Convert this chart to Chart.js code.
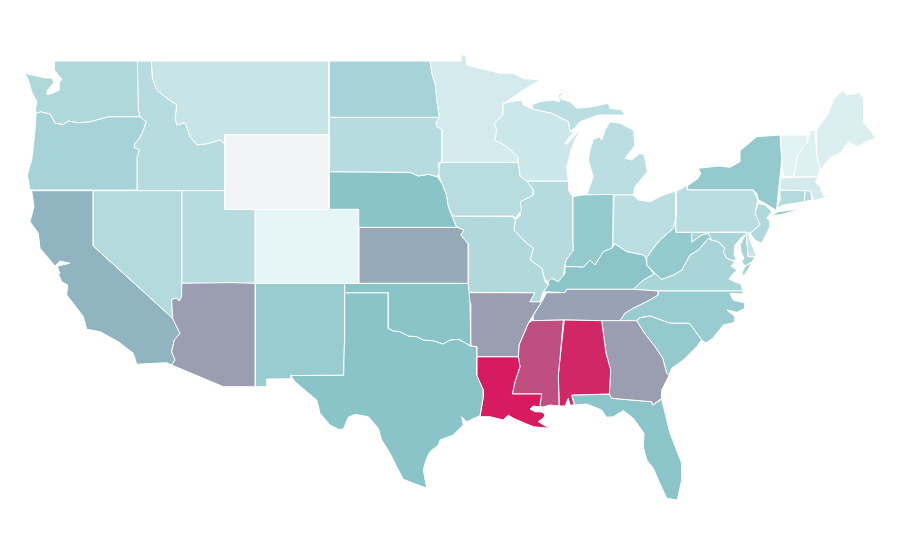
<!DOCTYPE html>
<html>
<head>
<meta charset="utf-8">
<script src="https://cdn.jsdelivr.net/npm/chart.js@4"></script>
<style>
  html, body { margin: 0; padding: 0; background: #fff; }
  canvas { display: block; }
</style>
</head>
<body>
<canvas id="map" width="900" height="560"></canvas>
<script>
// outlines, x,y x,y in map units
const WA = [54,61,54.3,70,59,76,61.7,79.3,59,83,59.3,90,53.3,93,47.3,94.5,47,91,51,86,54,82,52,78,45,78,25,73.3,28.3,80,31.7,91.7,35,98.3,37,102,35.5,108,36,113.3,40.7,111.7,50,114,52.7,118.3,55,123.3,63.3,124.3,68.3,121,78.3,122.7,90,121.7,100,119,108.3,116.7,140,116.7,138.3,110,137.3,61];
const OR = [36,113.3,40.7,111.7,50,114,52.7,118.3,55,123.3,63.3,124.3,68.3,121,78.3,122.7,90,121.7,100,119,108.3,116.7,140,116.7,146,121.7,144,128.3,140,137.3,135,143.3,134,147.3,139.3,150,137.3,156.7,137.3,190,30,190,27.3,175,31.7,160,33.3,146.7,35,130];
const ID = [137.3,61,151.3,61,152.3,78.3,156.7,90,166.7,98.3,176.7,105,175,118.3,176.7,125,185,122.7,190,136.7,196.7,145,206.7,144,220,140,225,144.3,225,190.5,137.3,190.5,137.3,156.7,139.3,150,134,147.3,135,143.3,140,137.3,144,128.3,146,121.7,140,116.7,138.3,110];
const MT = [151.3,61,329,61,329,134.7,225,134.7,225,144.3,220,140,206.7,144,196.7,145,190,136.7,185,122.7,176.7,125,175,118.3,176.7,105,166.7,98.3,156.7,90,152.3,78.3];
const WY = [225,134.7,329,134.7,329,209.3,225,209.3];
const ND = [329,61,430,61,431.7,73.3,435,83.3,436.7,100,439.3,117.3,329,117.3];
const SD = [329,117.3,439.3,117.3,435.7,123.3,436.7,126.7,441.7,129.3,441.7,161.7,438.3,163.3,439.3,171.7,437.3,176.7,428.3,174.3,418.3,176,410,172.3,329,171.7];
const NE = [329,171.7,410,172.3,418.3,176,428.3,174.3,437.3,176.7,441.7,183.3,446,193.3,448.3,206.7,450.7,213.3,456.7,227.3,358.7,227.3,358.7,209.3,329,209.3];
const CO = [255.3,209.3,358.7,209.3,358.7,283.3,255.3,283.3];
const KS = [358.7,227.3,456.7,227.3,464,230,460.7,235,468.3,244,468.3,283.3,358.7,283.3];
const OK = [344.7,283.3,468.3,283.3,470,303.3,470.7,346,463.3,341.7,458.3,339.3,450,340,442.7,344,433.3,340.7,423.3,340,416.7,336.7,408.3,336,400,331.7,393.3,331,388.3,328.3,388.3,292.7,344.7,292.7];
const TX = [344.7,292.7,388.3,292.7,388.3,328.3,393.3,331,400,331.7,408.3,336,416.7,336.7,423.3,340,433.3,340.7,442.7,344,450,340,458.3,339.3,463.3,341.7,470.7,346,476.7,346.7,476.7,375,483.3,390,483.3,396.7,480,415.7,466.7,421.7,461.7,416.7,463.3,425,453.3,435,440,440,438.3,445,430,451.7,426,460,423.3,470,426.7,488,413.3,483.3,403.3,479.3,396.7,466.7,390,453.3,381.7,440,378.3,428.3,368.3,416.7,355,414.3,348.3,417.3,343.3,429.3,338.3,429.3,330,425,320,413.3,316.7,400,306.7,391.7,295,381.7,290.7,375.5,343.7,375.3,344.3,343.3];
const NM = [255.5,283.3,344.7,283.3,344.7,292.7,344.3,343.3,343.7,375.3,290.7,375.5,291,378.7,267,379,267,386.7,255.5,386.7];
const AZ = [181.7,283.3,226.7,282.7,233.3,282.7,255.3,283.3,255.3,386.7,223.3,386.7,171.7,365,175,360,171.7,351.7,174.3,340,180,333.3,175,323.3,172.7,318.3,171.7,299.3,176.7,298.3,179.3,301,181.7,296.7];
const NV = [93.3,190.7,181.7,190.7,181.7,296.7,179.3,301,176.7,298.3,171.7,299.3,172.7,318.3,93.3,246];
const UT = [181.7,190.7,225,190.7,225,209.3,255.3,209.3,255.3,283.3,181.7,283.3];
const CA = [31.7,190.7,93.3,190.7,93.3,246,172.7,318.3,175,323.3,180,333.3,174.3,340,171.7,351.7,175,360,171.7,365,166.7,362.7,136.7,364.3,133.3,353.3,118.3,341.7,100,331.7,86.7,329.3,83.3,316.7,73.3,303.3,66.7,295,67.7,285,61.7,281.7,57.3,271.7,60,274,57.3,266,70,263.3,60,261,55,266,40,248.3,38.3,233.3,30,221.7,34,206.7];
const MN = [430,61,461,61,461,55,465.7,55,466.7,65,480,68.3,500,73.3,513.3,73.3,523.3,78.3,540,80,523.3,90,505,102.7,502.7,104,502.7,115,494,123.3,496.7,130,495,140,506.7,146.7,517.3,156,518.3,162.3,441.7,162.3,441.7,129.3,436.7,126.7,435.7,123.3,439.3,117.3,436.7,100,435,83.3,431.7,73.3];
const WI = [502.7,104,505,102.7,521.7,100,523.3,105,533.3,109.3,551.7,113.3,568.3,121.7,570,131.7,574,131,565,143.3,566.5,144.5,578,132,580,131,575,140,571.7,148.3,566.7,166.7,568.3,181,526.7,181,520,176,518.3,162.3,517.3,156,506.7,146.7,495,140,496.7,130,494,123.3,502.7,115];
const IA = [441.7,162.3,518.3,162.3,520,176,526.7,180.7,533.3,190,533.3,195,520,201.7,521.7,210,515,218.3,513.3,216,452.7,216,448.3,206.7,446,193.3,441.7,183.3,438.3,173.3,439.3,165];
const MO = [451.7,216,512.7,216.7,515.3,220,514,230,525,241.7,533.3,248.3,530,260,541.7,268.3,545,281.7,548.3,285,543.3,291.7,540,301.7,530,301.7,535,292.7,468.3,292.3,468.3,244,460.7,235,464,230,456.7,226.7];
const AR = [468.3,292.7,535,292.7,530,301.7,541.7,301.7,533.3,315,528.3,323.3,523.3,335,519,345,518.3,356.7,476.7,356.7,476.7,346.7,470.7,346,470,303.3];
const LA = [476.7,356.7,518.3,356.7,520,366.7,515,381.7,512.3,394,541.7,394,540,405,541,407,533,406,530,409,535,411.7,542,412,545,415,543.3,418,538.3,421.7,549,428.3,533.3,426.7,525,423.3,513.3,418.3,508.3,415,503.3,420,490,416.7,480,416.7,483.3,396.7,483.3,390,476.7,376.7];
const MS = [531.7,320.7,563.3,320,560,358.3,558.3,375,559,406,550,405,541.7,407.3,540,405,541.7,394,512.3,394,515,381.7,520,366.7,518.3,356.7,519,345,523.3,335,528.3,323.3];
const AL = [564.3,320,601.7,320.7,606,353.3,610.7,370,609.3,394,571.7,395,574,405,570,405,568.3,398.3,565,406,559.3,406,558.3,375,560,358.3];
const GA = [601.7,320.7,636.7,320.7,643.3,331.7,655,346.7,662.7,358.3,666.7,373.3,669.3,375,661.7,390,661.7,398.3,652.7,405,651.7,401.7,611.7,398.3,609.3,394,610.7,370,606,353.3];
const FL = [571.7,395,609.3,394.3,611.7,398.3,651.7,401.7,652.7,405,661.7,399.3,670,433.3,681.7,463.3,681.7,480,677.3,500,666.7,498.3,658.3,480,653.3,468.3,646.7,460,643.3,446.7,644,433.3,633.3,418.3,623.3,410.7,613.3,416.7,606.7,417.3,601.7,410,586.7,404,575,405];
const SC = [636.7,320.7,640,317.7,650,316,670,323.3,689.3,323.3,701.7,340,696.7,346.7,683.3,360,671.7,368.3,669.3,375,666.7,373.3,662.7,358.3,655,346.7,643.3,331.7];
const NC = [658.3,291,742.7,291,743,294,730,293.3,733,300,745,303,745,308.3,736.7,312.3,727,310,735,316.7,735,322.3,723.3,325,713,338,706,343,701.7,340,689.3,323.3,670,323.3,650,316,640,317.7,636.7,320.7,620,320.7,625,313.3,633.3,308.3,640,305,646.7,301.7,658.3,295];
const TN = [546.7,292.7,565,292.7,566.7,289.3,633.3,289.3,658.3,291,658.3,295,646.7,301.7,640,305,633.3,308.3,625,313.3,620,320.7,601.7,320.7,564,320,533.3,320.7,533.3,315,541.7,301.7];
const KY = [543.3,291.7,548.3,285,548.3,281.7,551.7,278.3,558.3,281.7,565,273.3,565,266.7,576.7,266.7,583.3,267.3,590,260,595,265,603.3,251.7,611.7,248.3,615,244,626.7,251.7,643.3,255,646,258.3,646.7,265,654,274,643.3,280,633.3,289.3,566.7,289.3,565,292.5];
const IL = [526.7,181,568.3,181,568.5,190,572.7,196.7,572.7,240,573.3,250,566,260,564.3,268.3,563.3,276.7,558.3,281.7,551.7,278.3,548.3,281.7,545,280,541.7,268.3,530,260,533.3,248.3,525,241.7,514,230,515.3,220,520.7,215,520,201.7,533.3,195,533.3,190];
const IN = [572.7,196.7,581.7,195,613.3,194.3,612.7,244,611.7,248.3,603.3,251.7,595,265,590,260,583.3,267.3,576.7,266.7,565,266.7,566,260,573.3,250,572.7,240];
const OH = [614,195,633.3,195,638.3,200,650,201.7,663,195,676,191,676,216.7,673.3,228.3,660,240,653.3,248.3,646,258.3,643.3,255,626.7,251.7,615,244,612.7,244];
const MI = [586.7,195,593.3,176.7,588.3,160,590,150,593.3,139.3,600,136.7,601.7,140,605,130,610,121.7,620,123.3,633.3,130,635,145,625,158.3,631.7,160,640,153.3,644.3,155,647.3,171.7,635,186.7,633.3,195,613.3,195];
const MI_UP = [531.7,105,540,101.7,553.3,100,560,101.7,558.3,95,568.3,90,561.7,95,561,99,570,101.7,576.7,108.3,591.7,106.7,608.3,103.3,610,108.3,621.7,110,625,115,610,115,598.3,115,586.7,119.3,580,121.7,574.3,128.3,570,131.7,568.3,121.7,551.7,113.3,533.3,109.3];
const PA = [676,191.7,687.3,185,687.3,190,753.3,190,757.7,200,755,213.3,760,225,750,233.3,746.7,232,676.7,232.3];
const NY = [687.3,186,698.3,178.3,700.7,173.3,698.3,168.3,718.3,166,730,167.3,740,161.7,740,150.7,756.7,136.7,780,135,781.7,160,779.3,183.3,776.7,208.3,775.7,210,765,203.3,758.3,200,756.7,193.3,753.3,190,687.3,190];
const NY_LI = [772.3,215,778.3,211.7,791.7,210,801.7,208.3,791.7,211.7,781.7,214.3,773.3,215.7];
const NJ = [758.3,203.3,765,205,771.7,211.7,766.7,218.3,770,220,770,226.7,761.7,243.3,755,240,750,233.3,760,225,755,213.3];
const DE = [746,232.7,748.3,231.7,750,240,756.7,256,748.3,256.7];
const MD = [691.7,232.3,746,232.3,748.3,256.7,755,256.7,752,262,745,266,741.7,262,744,258,741,252,740,245,745,235,742,237,735,245,734,255,736,258.5,734,261,726.5,258,723.3,251.7,725,248.3,718.3,241.7,711.7,240,708.3,233.3,701.7,235,691.7,242];
const WV = [676,216.7,676,232.3,691.7,232.3,691.7,242,701.7,235,708.3,233.3,711.7,240,708.3,238.3,698.3,250,690,255,681.7,270,673.3,275,661.7,279.3,655,273.3,646.7,265,646,258.3,653.3,248.3,660,240,673.3,228.3];
const VA = [633.3,289.3,643.3,280,654,274,655,273.3,661.7,279.3,673.3,275,681.7,270,690,255,698.3,250,708.3,238.3,711.7,240,718.3,241.7,725,248.3,723.3,251.7,726.5,258,735,262,731,266,737,270,733,274,729,279,735,282,741,284,742.7,291,658.3,291];
const VA_SHORE = [745,266,752,262,748,270,743.7,276,742,273];
const VT = [781.7,135,808.3,135,806.7,143.3,801.7,148.3,796.7,158.3,795,170,793.3,176.7,784,176.7,781.7,160];
const NH = [809.3,135,810.7,130.7,815,130,816.7,156.7,820,170,816.7,176.7,793.3,177,795,170,796.7,158.3,801.7,148.3,806.7,143.3];
const ME = [816.7,130,828.3,113.3,833.3,100,842.7,90,846.7,95,860,92.7,864,100,864,123.3,870,130,876,138.3,866.7,141.7,856.7,146.7,848.3,141.7,841.7,151.7,830,158.3,820,170,816.7,156.7];
const MA = [780,178,819,176.7,815,181.7,820,186.7,823.3,196,830,195,823.3,198.3,813.3,200.7,810.7,190.7,780,190];
const CT = [780,190,805,190.7,804.3,201.7,783.3,205,776.7,208.3,780,200];
const RI = [805,190.7,810.7,190.7,811.7,200,804.3,201.7];

const stateNames = ["WA","OR","ID","MT","WY","ND","SD","NE","CO","KS","OK","TX","NM","AZ","NV","UT","CA","MN","WI","IA","MO","AR","LA","MS","AL","GA","FL","SC","NC","TN","KY","IL","IN","OH","MI","PA","NY","NJ","DE","MD","WV","VA","VT","NH","ME","MA","CT","RI"];
const stateValues = [32,36,28.5,20.5,null,36,28.5,50,5.7,58,50,50,43,61.5,30,28.5,54.5,15,18,27.6,31,61.5,100,84.5,96.5,61.5,49,45,43,60,49,29,45,26.7,26.7,27,45,31,20.5,35,45,35,8.5,10,11,15,30,30];
const stateShapes = [[WA],[OR],[ID],[MT],[WY],[ND],[SD],[NE],[CO],[KS],[OK],[TX],[NM],[AZ],[NV],[UT],[CA],[MN],[WI],[IA],[MO],[AR],[LA],[MS],[AL],[GA],[FL],[SC],[NC],[TN],[KY],[IL],[IN],[OH],[MI,MI_UP],[PA],[NY,NY_LI],[NJ],[DE],[MD],[WV],[VA,VA_SHORE],[VT],[NH],[ME],[MA],[CT],[RI]];

const lowColor = [242,251,252];
const midColor = [137,196,201];
const highColor = [216,27,96];
const noDataColor = "#f2f3f5";

function colorFor(v) {
  if (v === null) return noDataColor;
  const a = v < 50 ? lowColor : midColor;
  const b = v < 50 ? midColor : highColor;
  const t = v < 50 ? v / 50 : (v - 50) / 50;
  return `rgb(${a.map((c, i) => Math.round(c + (b[i] - c) * t)).join(",")})`;
}

function toPoints(flat) {
  const pts = [];
  for (let i = 0; i < flat.length; i += 2) pts.push({ x: flat[i], y: flat[i + 1] });
  pts.push({ x: flat[0], y: flat[1] }); // close the ring
  return pts;
}

const datasets = [];
stateNames.forEach((name, i) => {
  stateShapes[i].forEach(ring => {
    datasets.push({
      label: name,
      data: toPoints(ring),
      showLine: true,
      fill: "shape",
      backgroundColor: colorFor(stateValues[i]),
      borderColor: "#fff",
      borderWidth: 1,
      pointRadius: 0,
      pointHoverRadius: 0,
      tension: 0
    });
  });
});

new Chart(document.getElementById("map"), {
  type: "scatter",
  data: { datasets },
  options: {
    responsive: false,
    animation: false,
    layout: { padding: 0 },
    plugins: { legend: { display: false }, tooltip: { enabled: false } },
    scales: {
      x: { type: "linear", display: false, min: 0, max: 900 },
      y: { type: "linear", display: false, min: 0, max: 560, reverse: true }
    }
  }
});
</script>
</body>
</html>
